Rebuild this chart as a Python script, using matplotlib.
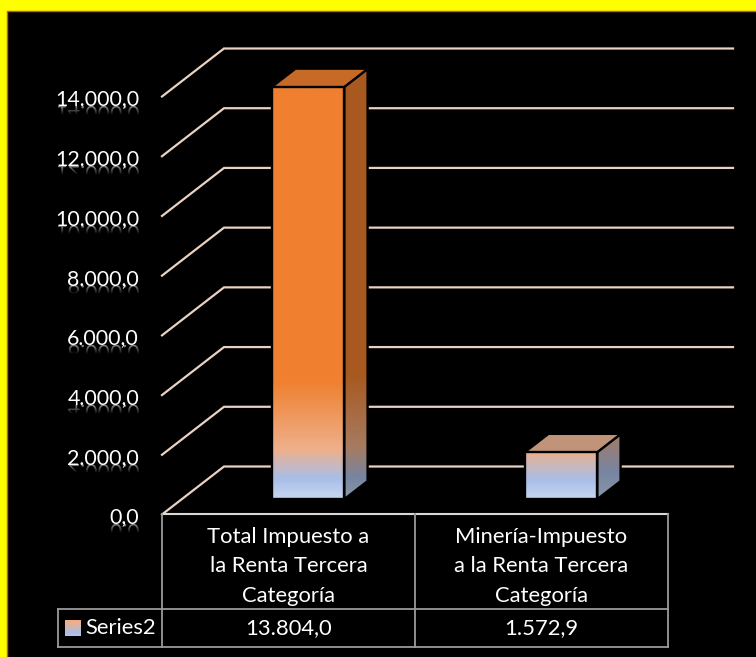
import matplotlib
matplotlib.use('Agg')
import matplotlib.pyplot as plt
import numpy as np
from matplotlib.colors import LinearSegmentedColormap, Normalize
from matplotlib.font_manager import FontProperties
from matplotlib.patches import Polygon, Rectangle
from matplotlib.path import Path
from matplotlib.textpath import TextPath
from matplotlib.transforms import Affine2D, ScaledTranslation

plt.rcParams['font.family'] = ['Lato', 'DejaVu Sans']

# data
categories = ['Total Impuesto a\nla Renta Tercera\nCategoría', 'Minería-Impuesto\na la Renta Tercera\nCategoría']
values = [13804.0, 1572.9]
value_labels = ['13.804,0', '1.572,9']
series_name = 'Series2'
y_ticks = [0, 2000, 4000, 6000, 8000, 10000, 12000, 14000]
y_labels = ['0,0', '2.000,0', '4.000,0', '6.000,0', '8.000,0', '10.000,0', '12.000,0', '14.000,0']

W, H = 756, 657
FS = 15.4
FS_TABLE = 15.8
GRID = '#ead2c2'
TABLE = '#9a9a9a'
Y0, YH = 514.5, 418     # pixel row of value 0, pixel height of the axis
DEPTH_X = 62 / 253      # one category is 253 px wide
DEPTH_Y = 48 / (YH / 14000)
BAR_W = 72 / 253
D_FRONT, D_BACK = 0.32, 0.695

# gradient runs over the bar height in value units, blue at the floor, orange from about 3800 up
grad = LinearSegmentedColormap.from_list('bar', [(0, '#c6d5f0'), (0.045, '#a9bee8'), (0.115, '#eeb08b'),
                                                 (0.28, '#f0802f'), (1, '#f0802f')])
norm = Normalize(0, 14000)


def project(x, v, d):
    return x + d * DEPTH_X, v + d * DEPTH_Y


def face(ax, pts, base, top, v, shade, z):
    # gradient image clipped to a polygon
    pts = np.array(pts)
    col = grad(norm(np.linspace(0, v, 200)))[::-1].copy()
    col[:, :3] *= shade
    im = ax.imshow(col[:, None, :], extent=(pts[:, 0].min(), pts[:, 0].max(), base, top), aspect='auto', zorder=z)
    im.set_clip_path(Path(np.vstack([pts, pts[0]])), transform=ax.transData)
    im.set_clip_box(fig.bbox)
    ax.add_patch(Polygon(pts, closed=True, fill=False, ec='black', lw=1.7, zorder=z + 0.1, clip_on=False))


fig = plt.figure(figsize=(W / 100, H / 100), dpi=100, facecolor='#ffff00')
ax = fig.add_axes([162 / W, 1 - Y0 / H, 506 / W, YH / H])
ax.patch.set_visible(False)
fr = fig.add_axes([0, 0, 1, 1], zorder=2)
fr.patch.set_visible(False)
fr.axis('off')

# black panel
fig.add_artist(Rectangle((7, 11), 760, 660, fc='black', ec='#c55a11', lw=1, transform=fr.transData, zorder=-1))

# walls and grid
for v in y_ticks:
    bx, by = project(0, v, 1)
    ax.plot([0, bx, 2.257], [v, by, by], color=GRID, lw=1.6, solid_joinstyle='miter', clip_on=False, zorder=1)

# bars
for i, v in enumerate(values):
    x0 = i + 0.5 - BAR_W / 2
    x1 = x0 + BAR_W
    fl = project(x0, 0, D_FRONT)
    fr_b = project(x1, 0, D_FRONT)
    tl = project(x0, v, D_FRONT)
    tr = project(x1, v, D_FRONT)
    br_b = project(x1, 0, D_BACK)
    br_t = project(x1, v, D_BACK)
    bl_t = project(x0, v, D_BACK)
    face(ax, [br_b, br_t, tr, fr_b], fr_b[1], br_t[1], v, 0.7, 3)
    c = np.array(grad(norm(v))[:3]) * 0.83
    ax.add_patch(Polygon([tl, tr, br_t, bl_t], closed=True, fc=c, ec='black', lw=1.2, zorder=3, clip_on=False))
    face(ax, [fl, tl, tr, fr_b], fl[1], tl[1], v, 1.0, 4)

ax.set_xlim(0, 2)
ax.set_ylim(0, 14000)
ax.set_xticks([])
ax.set_yticks(y_ticks, y_labels, fontsize=FS, color='white')
ax.tick_params(axis='y', length=0, pad=16.5)
shift = ScaledTranslation(0, -3 / 100, fig.dpi_scale_trans)
for lab in ax.get_yticklabels():
    lab.set_verticalalignment('center')
    lab.set_transform(lab.get_transform() + shift)
for s in ax.spines.values():
    s.set_visible(False)

# tick label reflections
fp = FontProperties(family='Lato')
fade = np.ones((64, 1, 4))
fade[:, 0, 3] = np.linspace(0.55, 0, 64)
for v, lab in zip(y_ticks, y_labels):
    py = Y0 - v * YH / 14000 + 9.5
    tp = TextPath((0, 0), lab, size=FS * 100 / 72, prop=fp)
    ext = tp.get_extents()
    p = tp.transformed(Affine2D().translate(139 - ext.x1, py))
    im = fr.imshow(fade, extent=(50, 145, py + 9, py), aspect='auto', zorder=1)
    im.set_clip_path(p, transform=fr.transData)

# table under the plot
fr.plot([162, 668], [514, 514], color='#d8d8d8', lw=1.5)
for x in [162, 415, 668]:
    fr.plot([x, x], [514, 647], color=TABLE, lw=1.3)
fr.plot([58, 668], [609, 609], color=TABLE, lw=1.3)
fr.plot([58, 668], [647, 647], color=TABLE, lw=1.3)
fr.plot([58, 58], [609, 647], color=TABLE, lw=1.3)

for i, (name, val) in enumerate(zip(categories, value_labels)):
    cx = 162 + 253 * (i + 0.5)
    for k, part in enumerate(name.split('\n')):
        fr.text(cx, 537 + 29.5 * k, part, color='white', fontsize=FS_TABLE, ha='center', va='center')
    fr.text(cx, 628, val, color='white', fontsize=FS_TABLE, ha='center', va='center')

fr.text(85, 628, series_name, color='white', fontsize=FS_TABLE, ha='left', va='center')
sw = grad(np.linspace(0.13, 0.03, 32))[:, None, :]
fr.imshow(sw, extent=(65, 81, 636, 620), aspect='auto', zorder=1)

fr.set_xlim(0, W)
fr.set_ylim(H, 0)

fig.savefig('out.png', dpi=100, facecolor=fig.get_facecolor())
